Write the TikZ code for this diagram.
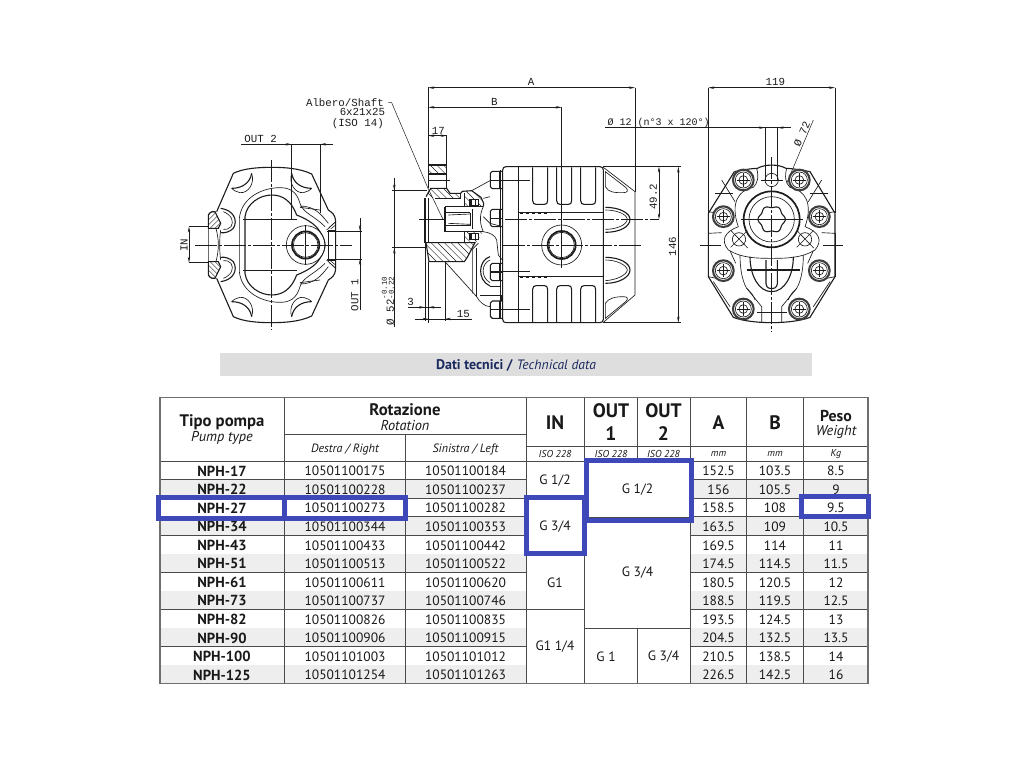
\documentclass[tikz,border=0pt]{standalone}
\usepackage{fontspec}
\setmainfont{PT Sans}
\newfontfamily\cadfont{Liberation Mono}
\usetikzlibrary{arrows.meta}
\definecolor{hl}{HTML}{3F48B8}
\definecolor{band}{HTML}{DEDEDE}
\definecolor{stripe}{HTML}{EEEEEE}
\definecolor{navy}{HTML}{1B2A5E}
\definecolor{rule}{HTML}{4A4A4A}
\definecolor{frame}{HTML}{6E6E6E}
\definecolor{ink}{HTML}{1C1C1C}
\tikzset{
  hlbox/.style={draw=hl,line width=5pt},
  cell/.style={inner sep=0pt,anchor=center,text=black!90},
  num/.style={cell,font=\fontsize{13.5}{15}\selectfont},
  pumpname/.style={cell,font=\fontsize{14.6}{16}\selectfont\bfseries},
  headb/.style={cell,font=\fontsize{16.7}{18}\selectfont\bfseries},
  pesob/.style={cell,font=\fontsize{15.8}{18}\selectfont\bfseries},
  headi/.style={cell,font=\fontsize{14.3}{16}\selectfont\itshape},
  subi/.style={cell,font=\fontsize{12}{14}\selectfont\itshape},
  unit/.style={cell,font=\fontsize{10}{12}\selectfont\itshape},
  big/.style={cell,font=\fontsize{19.5}{22}\selectfont\bfseries},
  cad/.style={inner sep=0pt,text=ink,font=\cadfont\fontsize{10.8}{12}\selectfont},
  ln/.style={draw=ink,line width=.65pt},
  thk/.style={draw=ink,line width=1.1pt},
  vthk/.style={draw=ink,line width=1.7pt},
  thn/.style={draw=ink,line width=.45pt},
  cl/.style={draw=ink,line width=.5pt,dash pattern=on 22pt off 2pt on 3pt off 2pt},
  dim/.style={draw=ink,line width=.5pt},
  tip/.style={-{Stealth[length=6pt,width=2.4pt]}},
  tips/.style={{Stealth[length=6pt,width=2.4pt]}-{Stealth[length=6pt,width=2.4pt]}},
  hatch/.style={draw=ink,line width=.45pt}
}
\newcommand{\hatchit}[2]{%
  \begin{scope}\clip #1;
    \foreach \hh in {-400,-380,...,400}{\draw[hatch] (\hh,#2) -- ++(300,300);}
  \end{scope}}
\newcommand{\hatchat}[2]{%
  \begin{scope}\clip #1;
    \foreach \hh in {-400,-385,...,400}{\draw[hatch] (\hh,#2) -- ++(-300,300);}
  \end{scope}}
\begin{document}
\begin{tikzpicture}[x=1pt,y=-1pt]
\useasboundingbox (0,0) rectangle (1024,768);
\fill[white] (0,0) rectangle (1024,768);
% ---------------- Left view : crop units, origin (200,160), centre (215,255)
\begin{scope}[xshift=200pt,yshift=-160pt,x=.33333pt,y=-.33333pt]
  \foreach \sy in {1,-1}{
  \begin{scope}[shift={(215,255)},yscale=\sy]
    % outline
    \draw[thk] (0,-233) .. controls (40,-233) and (85,-230) .. (120,-213) -- (170,-105) .. controls (180,-97) and (190,-95) .. (192,-70) -- (192,0);
    \draw[thk] (0,-233) .. controls (-40,-233) and (-85,-230) .. (-115,-215) -- (-165,-100);
    % left boss
    \draw[ln] (-190,0) -- (-190,-90) .. controls (-185,-100) and (-175,-102) .. (-170,-100);
    \draw[ln] (-167,-50) .. controls (-162,-30) and (-160,-15) .. (-160,0);
    \draw[ln] (-153,-45) .. controls (-155,-30) and (-156,-15) .. (-156,0);
    \draw[thk] (-190,-90) .. controls (-185,-100) and (-175,-102) .. (-170,-100) -- (-153,-65) -- (-160,-50) -- (-190,-50) -- cycle;
    \hatchat{(-190,-90) -- (-175,-101) -- (-170,-100) -- (-153,-65) -- (-160,-50) -- (-190,-50) -- cycle}{-240}
    % ear arcs
    \draw[thk] (-153,-110) .. controls (-115,-105) and (-100,-75) .. (-115,-50) .. controls (-125,-40) and (-140,-35) .. (-153,-37);
    \draw[ln] (-145,-100) .. controls (-120,-90) and (-112,-70) .. (-122,-55) .. controls (-128,-48) and (-138,-45) .. (-145,-47);
    % stadium
    \draw[ln] (-97,0) -- (-97,-80) .. controls (-90,-145) and (-25,-172) .. (25,-172) .. controls (55,-172) and (75,-160) .. (85,-125) .. controls (95,-95) and (125,-90) .. (160,-55);
    \draw[thk] (-80,0) -- (-80,-85) .. controls (-75,-125) and (-35,-150) .. (0,-150) .. controls (35,-150) and (60,-130) .. (75,-90) .. controls (100,-80) and (130,-65) .. (145,-40) .. controls (155,-25) and (160,-10) .. (160,0);
    \draw[ln] (85,-117) .. controls (130,-117) and (150,-90) .. (170,-65);
    \draw[ln] (85,-113) -- (145,-105);
    % port wall right
    \draw[ln] (170,-45) -- (170,0);
    \draw[ln] (192,-70) -- (165,-45);
    \draw[hatch] (172,-52) -- (190,-68);
    \draw[hatch] (177,-48) -- (192,-60);
    \draw[ln] (170,-45) -- (192,-45);
    % bore lines
    \draw[ln] (-85,-77) -- (75,-77);
  \end{scope}}
  \foreach \sx/\sy in {1/1,-1/1,1/-1,-1/-1}{
  \begin{scope}[shift={(215,255)},xscale=\sx,yscale=\sy]
    \draw[thk] (60,-215) .. controls (65,-185) and (90,-170) .. (120,-170);
    \draw[ln] (60,-215) .. controls (50,-185) and (70,-155) .. (95,-157) .. controls (105,-158) and (115,-165) .. (120,-170);
  \end{scope}}
  % port
  \fill[white] (317,255) circle (56);
  \draw[ln] (317,255) circle (58);
  \draw[vthk] (317,255) circle (41);
  \draw[ln] (317,255) circle (37);
  \draw[dim] (317,195) -- (317,315);
  % centre lines
  \draw[cl] (-15,255) -- (455,255);
  \draw[cl] (215,0) -- (215,510);
\end{scope}
% ---------------- Dimensions left view, origin (170,70)
\begin{scope}[xshift=170pt,yshift=-70pt,x=.33333pt,y=-.33333pt]
  \draw[dim] (213,223) -- (490,223);
  \draw[dim,tip] (330,223) -- (365,223);
  \draw[dim,tip] (490,223) -- (450,223);
  \draw[dim] (365,223) -- (365,450);
  \draw[dim] (450,223) -- (450,430);
  \node[cad,anchor=base] (out2) at (272,217) {OUT 2};
  \draw[dim] (57,470) -- (115,470);
  \draw[dim] (57,578) -- (115,578);
  \draw[dim,tips] (57,470) -- (57,578);
  \node[cad,rotate=90] (inlab) at (42,525) {IN};
  \draw[dim] (470,483) -- (577,483);
  \draw[dim] (470,567) -- (577,567);
  \draw[dim] (570,445) -- (570,720);
  \draw[dim,tip] (570,450) -- (570,483);
  \draw[dim,tip] (570,600) -- (570,567);
  \node[cad,rotate=90,anchor=south] (out1) at (566,675) {OUT 1};
  % section dims
  \draw[dim] (775,50) -- (775,285);
  \draw[dim] (830,197) -- (830,285);
  \draw[dim] (775,197) -- (830,197);
  \draw[dim,tip] (812,197) -- (775,197);
  \draw[dim,tip] (795,197) -- (830,197);
  \node[cad,anchor=base] (d17) at (805,193) {17};
  \draw[dim] (655,98) -- (665,98) -- (775,357) -- (820,450);
  \node[cad,anchor=base east] (alb1) at (642,108) {Albero/Shaft};
  \node[cad,anchor=base east] (alb2) at (646,138) {6x21x25};
  \node[cad,anchor=base east] (alb3) at (642,169) {(ISO 14)};
  \draw[dim] (667,362) -- (770,362);
  \draw[dim] (667,533) -- (770,533);
  \draw[dim] (673,325) -- (673,770);
  \draw[dim,tip] (673,330) -- (673,362);
  \draw[dim,tip] (673,565) -- (673,533);
  \node[cad,rotate=90,anchor=west] (d52) at (654,766) {\O{} 52\raisebox{0pt}{\fontsize{7.5}{8}\selectfont\shortstack[l]{-0.10\\[-1pt]-0.22}}};
  \draw[dim] (715,712) -- (812,712);
  \draw[dim,tip] (742,712) -- (765,712);
  \draw[dim,tip] (800,712) -- (775,712);
  \node[cad,anchor=base] (d3) at (722,705) {3};
  \draw[dim] (735,747) -- (905,747);
  \draw[dim,tip] (745,747) -- (775,747);
  \draw[dim,tip] (855,747) -- (825,747);
  \node[cad,anchor=base] (d15) at (880,742) {15};
  \draw[dim] (765,520) -- (765,752);
  \draw[dim] (775,575) -- (775,758);
  \draw[dim] (825,575) -- (825,752);
\end{scope}
% ---------------- Section : crop units, origin (415,160)
\begin{scope}[xshift=415pt,yshift=-160pt,x=.33333pt,y=-.33333pt]
  % flange
  \draw[thk] (40,15) rectangle (95,42);
  \hatchit{(40,15) rectangle (95,42)}{-150}
  \draw[ln] (40,42) -- (40,85);
  \draw[ln] (95,42) -- (95,85);
  \draw[ln] (40,62) -- (105,62);
  % upper hatched body
  \draw[thk] (33,110) -- (47,85) -- (95,85) -- (105,100) -- (137,100) -- (142,94) -- (170,92) -- (198,112) -- (206,130) -- (205,140);
  \hatchit{(33,110) -- (47,85) -- (95,85) -- (105,100) -- (137,100) -- (137,115) -- (60,115) -- cycle}{-120}
  \draw[ln] (60,115) -- (137,115) -- (137,100);
  \draw[ln] (148,100) -- (148,140);
  \hatchit{(142,94) -- (170,92) -- (198,112) -- (206,130) -- (205,140) -- (148,140) -- (148,100) -- cycle}{-100}
  \fill[white] (165,118) rectangle (191,138);
  \draw[thk] (165,118) rectangle (191,138);
  \draw[ln] (170,120) -- (170,136);
  \draw[ln] (180,120) -- (180,136);
  \draw[ln] (170,92) -- (225,62);
  % face
  \draw[vthk] (31,115) -- (31,248);
  \draw[ln] (40,115) -- (40,248);
  % shaft
  \draw[thk] (90,140) -- (205,140);
  \draw[thk] (90,140) -- (90,215) -- (205,215);
  \draw[thk] (90,158) -- (165,158);
  \draw[ln] (100,165) -- (165,162);
  \draw[ln] (100,190) -- (165,193);
  \draw[thk] (90,197) -- (165,197);
  \draw[ln] (172,148) -- (172,207);
  \draw[ln] (165,158) -- (165,197);
  \draw[ln] (205,140) .. controls (192,165) and (195,195) .. (205,215);
  % lower seal
  \draw[ln] (148,215) -- (148,245);
  \hatchit{(148,215) -- (205,215) -- (185,245) -- (148,245) -- cycle}{60}
  \fill[white] (165,220) rectangle (191,238);
  \draw[thk] (165,220) rectangle (191,238);
  \draw[ln] (170,222) -- (170,236);
  \draw[ln] (180,222) -- (180,236);
  % lower hatched
  \draw[thk] (33,248) -- (180,248) .. controls (170,265) and (160,290) .. (148,305) -- (42,305) -- cycle;
  \hatchit{(33,248) -- (180,248) .. controls (170,265) and (160,290) .. (148,305) -- (42,305) -- cycle}{40}
  % lower body
  \draw[ln] (90,305) -- (185,410) .. controls (192,425) and (210,440) .. (225,440);
  \draw[ln] (190,250) -- (172,268) -- (172,400);
  \draw[ln] (185,265) -- (185,410);
  \draw[ln] (205,215) .. controls (225,218) and (240,225) .. (245,240) -- (250,285) -- (262,300);
  \draw[ln] (205,115) -- (225,110);
  \draw[ln] (205,170) -- (225,190) -- (262,200);
  \draw[thk] (225,290) .. controls (190,300) and (185,360) .. (225,378);
  \draw[ln] (225,300) .. controls (200,310) and (195,350) .. (225,368);
  \draw[ln] (195,405) -- (260,405) -- (260,422);
  \draw[ln] (225,378) -- (255,378) -- (255,405);
  \draw[ln] (12,178) -- (90,178);
  % bolt heads
  \foreach \by in {60,174,336,449}{
    \draw[thk] (262,\by-26) -- (232,\by-26) -- (226,\by-20) -- (226,\by+20) -- (232,\by+26) -- (262,\by+26);
    \draw[thk] (255,\by-26) -- (255,\by+26);
    \draw[cl] (228,\by) -- (262,\by);
  }
\end{scope}
% ---------------- Side body, origin (480,70)
\begin{scope}[xshift=480pt,yshift=-70pt,x=.33333pt,y=-.33333pt]
  \draw[thk] (78,290) -- (360,290) .. controls (366,290) and (370,294) .. (370,300) -- (370,748) .. controls (370,754) and (366,758) .. (360,758) -- (78,758) .. controls (72,758) and (68,754) .. (68,748) -- (68,300) .. controls (68,294) and (72,290) .. (78,290) -- cycle;
  \draw[ln] (115,290) -- (115,758);
  \draw[ln] (62,300) -- (62,748);
  \foreach \fx in {158,230,302}{
    \draw[thk] (\fx,292) -- (\fx,392) .. controls (\fx,400) and (\fx+4,403) .. (\fx+10,403) -- (\fx+35,403) .. controls (\fx+41,403) and (\fx+45,400) .. (\fx+45,392) -- (\fx+45,292);
    \draw[thk] (\fx,756) -- (\fx,658) .. controls (\fx,650) and (\fx+4,647) .. (\fx+10,647) -- (\fx+35,647) .. controls (\fx+41,647) and (\fx+45,650) .. (\fx+45,658) -- (\fx+45,756);
  }
  \draw[ln] (115,428) -- (370,428);
  \draw[ln,dashed] (120,431) -- (210,431);
  \draw[ln] (115,620) -- (370,620);
  \draw[ln,dashed] (120,623) -- (210,623);
  % cap
  \draw[ln] (370,292) -- (465,365) -- (465,675) -- (370,757);
  \draw[ln] (376,305) -- (437,352) .. controls (447,362) and (442,368) .. (430,368) .. controls (405,368) and (385,368) .. (376,350) -- cycle;
  \draw[ln] (376,745) -- (437,695) .. controls (447,685) and (442,680) .. (430,680) .. controls (405,680) and (385,685) .. (376,700) -- cycle;
  \draw[thk] (376,412) .. controls (420,412) and (450,430) .. (450,448) .. controls (450,470) and (420,487) .. (376,487);
  \draw[ln] (376,420) .. controls (410,420) and (440,432) .. (442,448) .. controls (440,465) and (410,478) .. (376,478);
  \draw[thk] (376,562) .. controls (420,562) and (450,580) .. (450,600) .. controls (450,620) and (420,640) .. (376,640);
  \draw[ln] (376,570) .. controls (410,570) and (440,585) .. (442,600) .. controls (440,615) and (410,630) .. (376,632);
  % bolt axes
  \foreach \by in {330,605,717}{\draw[ln] (32,\by) -- (150,\by);}
  % port
  \draw[ln] (245,525) circle (60);
  \draw[vthk] (245,525) circle (42);
  \draw[ln] (245,525) circle (38);
  \draw[cl] (70,525) -- (490,525);
  \draw[cl] (75,448) -- (537,448);
  % dim A B
  \draw[dim] (465,53) -- (465,365);
  \draw[dim] (245,112) -- (245,595);
  \draw[dim,tips] (-155,53) -- (465,53);
  \draw[dim,tips] (-155,112) -- (245,112);
  \node[cad,anchor=base] (la) at (153,47) {A};
  \node[cad,anchor=base] (lb) at (43,106) {B};
  % dims height
  \draw[dim] (370,290) -- (602,290);
  \draw[dim] (370,758) -- (602,758);
  \draw[dim,tips] (537,290) -- (537,448);
  \draw[dim,tips] (595,290) -- (595,758);
  \node[cad,rotate=90] (d49) at (520,380) {49.2};
  \node[cad,rotate=90] (d146) at (578,530) {146};
  % right view dims
  \draw[dim] (685,53) -- (685,430);
  \draw[dim] (1065,53) -- (1065,430);
  \draw[dim,tips] (685,53) -- (1065,53);
  \node[cad,anchor=base] (d119) at (886,47) {119};
  \draw[dim] (375,173) -- (932,173);
  \draw[dim,tip] (820,173) -- (855,173);
  \draw[dim,tip] (930,173) -- (893,173);
  \draw[dim] (855,173) -- (855,330);
  \draw[dim] (893,173) -- (893,330);
  \node[cad,anchor=base west,font=\cadfont\fontsize{10}{12}\selectfont] (d12) at (382,167) {\O{} 12 (n°3 x 120°)};
  \draw[dim] (1000,150) -- (920,340);
  \node[cad,rotate=66] (d72) at (966,192) {\O{} 72};
\end{scope}
% ---------------- Right view : crop units, origin (700,160), centre x=215
\begin{scope}[xshift=700pt,yshift=-160pt,x=.33333pt,y=-.33333pt]
  \draw[dim] (25,-20) -- (25,160);
  \draw[dim] (25,220) -- (25,350);
  \draw[dim] (405,-20) -- (405,160);
  \draw[dim] (405,220) -- (405,350);
  \draw[thk] (103,35) .. controls (125,30) and (150,26) .. (172,25) .. controls (195,12) and (235,12) .. (258,25) .. controls (280,26) and (305,30) .. (330,35) -- (405,160);
  \draw[thk] (103,35) -- (25,160) -- (25,350) -- (100,472) .. controls (125,482) and (170,488) .. (215,488) .. controls (260,488) and (305,482) .. (330,472) -- (405,350) -- (405,160);
  \foreach \sx in {1,-1}{
  \begin{scope}[shift={(215,0)},xscale=\sx]
    \draw[ln] (45,25) .. controls (38,50) and (42,70) .. (55,82);
    \draw[ln] (55,82) .. controls (100,90) and (125,130) .. (100,200) .. controls (140,215) and (155,240) .. (130,270) .. controls (90,295) and (40,295) .. (0,295);
    \draw[ln] (190,155) -- (160,160);
    \draw[ln] (190,220) -- (150,218);
    \draw[ln] (190,350) -- (165,355);
    \draw[ln] (170,100) -- (115,100);
    \draw[ln] (150,60) -- (110,125);
    \draw[ln] (175,365) -- (125,440);
    \draw[ln] (95,285) .. controls (95,320) and (90,360) .. (75,385) -- (30,440) -- (30,488);
    \draw[ln] (125,272) -- (108,310);
    \draw[thk] (65,290) .. controls (65,345) and (40,395) .. (0,395);
    \draw[thk] (17,300) -- (17,372) .. controls (15,385) and (5,386) .. (0,386);
    \draw[ln] (0,458) -- (45,458);
    \draw[ln] (75,385) .. controls (60,400) and (55,405) .. (50,420);
  \end{scope}}
  % hole on top
  \draw[ln] (215,60) circle (20);
  \draw[ln] (182,60) -- (248,60);
  % hub
  \draw[vthk] (215,178) circle (84);
  \draw[ln] (215,178) circle (68);
  \draw[thk] plot[domain=0:360,samples=73,smooth] ({215+(38+3*cos(6*\x))*cos(\x)},{178+(38+3*cos(6*\x))*sin(\x)});
  \draw[ln] (140,330) -- (300,330);
  \draw[thk] (140,330) -- (300,330);
  % small holes
  \foreach \hx in {117,315}{
    \draw[ln] (\hx,238) circle (20);
    \draw[ln] (\hx-25,262) -- (\hx+25,212);
    \draw[ln] (\hx-24,212) -- (\hx+26,264);
  }
  % bolts
  \foreach \bx/\by in {130/60,298/60,70/170,358/170,70/332,358/332,130/447,298/447}{
    \fill[white] (\bx,\by) circle (33);
    \draw[draw=ink!85,line width=2.1pt] (\bx,\by) circle (31);
    \draw[ln] (\bx,\by) circle (24);
    \draw[ln] (\bx,\by) circle (13);
    \draw[thn] (\bx-20,\by) -- (\bx+20,\by);
    \draw[thn] (\bx,\by-20) -- (\bx,\by+20);
  }
  % centre lines
  \draw[cl] (215,-8) -- (215,515);
  \draw[thk] (122,178) -- (310,178);
  \draw[ln] (0,255) -- (62,255);
  \draw[ln] (368,255) -- (430,255);
\end{scope}
% ---------------- Title band
\fill[band] (220,353) rectangle (812,376);
\node[inner sep=0pt,text=navy,font=\fontsize{14}{16}\selectfont] (title) at (516,365.5) {\textbf{Dati tecnici /} \textit{\fontsize{13.6}{16}\selectfont Technical data}};
% ---------------- Table
\def\rowH{18.53}
\def\rowT{461.3}
\foreach \n/\a/\b/\c/\d/\e [count=\i from 0] in {
 NPH-17/10501100175/10501100184/152.5/103.5/8.5,
 NPH-22/10501100228/10501100237/156/105.5/9,
 NPH-27/10501100273/10501100282/158.5/108/9.5,
 NPH-34/10501100344/10501100353/163.5/109/10.5,
 NPH-43/10501100433/10501100442/169.5/114/11,
 NPH-51/10501100513/10501100522/174.5/114.5/11.5,
 NPH-61/10501100611/10501100620/180.5/120.5/12,
 NPH-73/10501100737/10501100746/188.5/119.5/12.5,
 NPH-82/10501100826/10501100835/193.5/124.5/13,
 NPH-90/10501100906/10501100915/204.5/132.5/13.5,
 NPH-100/10501101003/10501101012/210.5/138.5/14,
 NPH-125/10501101254/10501101263/226.5/142.5/16}{
  \pgfmathsetmacro{\yt}{\rowT+\i*\rowH}
  \pgfmathsetmacro{\yb}{\yt+\rowH}
  \pgfmathsetmacro{\ym}{\yt+\rowH/2+.6}
  \pgfmathparse{int(mod(\i,2))}
  \ifnum\pgfmathresult=1
    \fill[stripe] (160,\yt) rectangle (526.5,\yb);
    \fill[stripe] (690.5,\yt) rectangle (868,\yb);
  \fi
  \draw[rule,line width=.8pt] (160,\yb) -- (526.5,\yb);
  \draw[rule,line width=.8pt] (690.5,\yb) -- (868,\yb);
  \node[pumpname] (p\i) at (222,\ym) {\n};
  \node[num] (r\i) at (345,\ym) {\a};
  \node[num] (l\i) at (465.5,\ym) {\b};
  \node[num] (ca\i) at (718.5,\ym) {\c};
  \node[num] (cb\i) at (775,\ym) {\d};
  \node[num] (cw\i) at (836,\ym) {\e};
}
% merged cells
\foreach \yy in {498.4,554,609.6}{\draw[rule,line width=.8pt] (526.5,\yy) -- (584.5,\yy);}
\foreach \yy in {517,628.2}{\draw[rule,line width=.8pt] (584.5,\yy) -- (690.5,\yy);}
\draw[rule,line width=.8pt] (160,461.3) -- (868,461.3);
\draw[rule,line width=.8pt] (526.5,446) -- (868,446);
\draw[rule,line width=.8pt] (284.5,434.3) -- (526.5,434.3);
\foreach \xx in {284.5,526.5,584.5,690.5,746.5,803.5}{\draw[rule,line width=.8pt] (\xx,397.5) -- (\xx,683.7);}
\draw[rule,line width=.8pt] (405.5,434.3) -- (405.5,683.7);
\draw[rule,line width=.8pt] (637.5,397.5) -- (637.5,461.3);
\draw[rule,line width=.8pt] (637.5,628.2) -- (637.5,683.7);
\draw[frame,line width=1.4pt] (160,397.5) rectangle (868,683.7);
% headers
\node[headb] (h1) at (222,422) {Tipo pompa};
\node[headi] (h2) at (222,438) {Pump type};
\node[headb] (h3) at (405,410) {Rotazione};
\node[headi] (h4) at (405,426) {Rotation};
\node[subi] (h5) at (345,449) {Destra / Right};
\node[subi] (h6) at (465.5,449) {Sinistra / Left};
\node[big] (h7) at (555,423) {IN};
\node[big] (h8) at (611,411) {OUT};
\node[big] (h9) at (611,434) {1};
\node[big] (h10) at (663.5,411) {OUT};
\node[big] (h11) at (663.5,434) {2};
\node[big] (h12) at (718.5,423) {A};
\node[big] (h13) at (775,423) {B};
\node[pesob] (h14) at (836,416) {Peso};
\node[headi] (h15) at (836,432) {Weight};
\node[unit] (u1) at (555,454) {ISO 228};
\node[unit] (u2) at (611,454) {ISO 228};
\node[unit] (u3) at (663.5,454) {ISO 228};
\node[unit] (u4) at (718.5,454) {mm};
\node[unit] (u5) at (775,454) {mm};
\node[unit] (u6) at (836,454) {Kg};
\node[num] (g1) at (555,481) {G 1/2};
\node[num] (g2) at (555,527) {G 3/4};
\node[num] (g3) at (555,583) {G1};
\node[num] (g4) at (555,647) {G1 1/4};
\node[num] (g5) at (637.5,490) {G 1/2};
\node[num] (g6) at (637.5,573) {G 3/4};
\node[num] (g7) at (606,657) {G 1};
\node[num] (g8) at (663.5,657) {G 3/4};
% highlights
\draw[hlbox] (158,497) rectangle (405.5,518);
\draw[hlbox] (284.5,497) -- (284.5,518);
\draw[hlbox] (526.5,497) rectangle (584.5,553.5);
\draw[hlbox] (586,460) rectangle (691,520);
\draw[hlbox] (801,496.5) rectangle (868.5,516);
\end{tikzpicture}
\end{document}
